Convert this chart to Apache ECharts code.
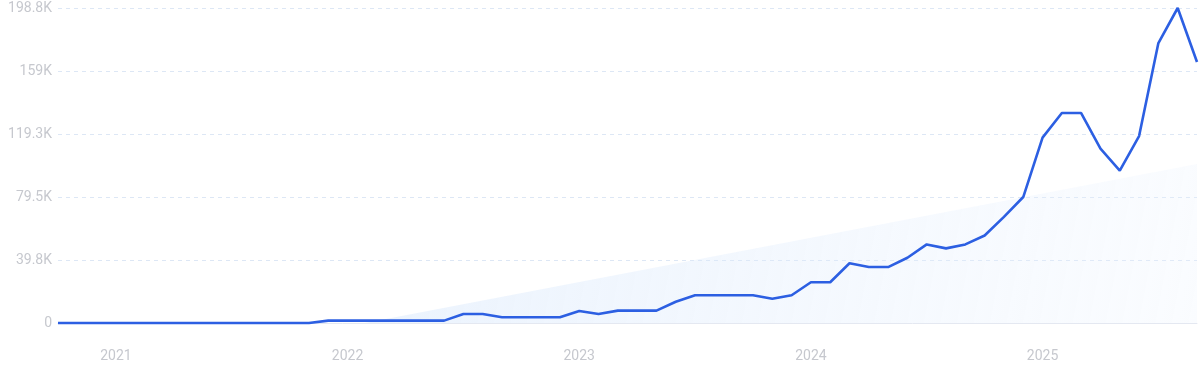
<!DOCTYPE html>
<html>
<head>
<meta charset="utf-8">
<script src="https://cdn.jsdelivr.net/npm/echarts@6/dist/echarts.min.js"></script>
<style>html,body{margin:0;padding:0;background:#fff;}#c{width:1200px;height:372px;}</style>
</head>
<body>
<div id="c"></div>
<script>
var months = [
"2020-10","2020-11","2020-12",
"2021-01","2021-02","2021-03","2021-04","2021-05","2021-06","2021-07","2021-08","2021-09","2021-10","2021-11","2021-12",
"2022-01","2022-02","2022-03","2022-04","2022-05","2022-06","2022-07","2022-08","2022-09","2022-10","2022-11","2022-12",
"2023-01","2023-02","2023-03","2023-04","2023-05","2023-06","2023-07","2023-08","2023-09","2023-10","2023-11","2023-12",
"2024-01","2024-02","2024-03","2024-04","2024-05","2024-06","2024-07","2024-08","2024-09","2024-10","2024-11","2024-12",
"2025-01","2025-02","2025-03","2025-04","2025-05","2025-06","2025-07","2025-08","2025-09"
];
var values = [
0,0,0,
0,0,0,0,0,0,0,0,0,0,0,1500,
1500,1500,1500,1500,1500,1500,5700,5700,3600,3600,3600,3600,
7600,5700,7800,7800,7800,13400,17500,17500,17500,17500,15300,17500,
25700,25700,37700,35300,35300,41200,49600,47100,49600,55200,67000,79500,
117000,132500,132500,110000,96200,118000,176700,198800,164700
];
var trendPoints = [[0,-37000],[59,100300]];
var yTicks = [0,39760,79520,119280,159040,198800];

function fmt(v){
  if (v === 0) return '0';
  var k = Math.round(v/100)/10;
  return k + 'K';
}

var chart = echarts.init(document.getElementById('c'), null, {renderer:'canvas'});
chart.setOption({
  animation:false,
  grid:{left:58,right:3,top:8,bottom:49,containLabel:false},
  xAxis:{
    type:'category',
    data:months,
    boundaryGap:false,
    axisLine:{show:true,lineStyle:{color:'#e4e8f1',width:1}},
    axisTick:{show:false},
    splitLine:{show:false},
    axisLabel:{
      color:'#c6c8ce',fontSize:14,fontFamily:'Roboto',margin:26,
      interval:function(i,v){return v.slice(5)==='01';},
      formatter:function(v){return v.slice(0,4);}
    }
  },
  yAxis:{
    type:'value',
    min:yTicks[0],max:yTicks[yTicks.length-1],interval:yTicks[1]-yTicks[0],
    axisLine:{show:false},axisTick:{show:false},
    splitLine:{show:true,lineStyle:{color:'#dde7f5',type:[4,4],width:1}},
    axisLabel:{color:'#c6c8ce',fontSize:14,fontFamily:'Roboto',margin:6,formatter:fmt}
  },
  series:[
    {
      type:'line',data:trendPoints,symbol:'none',silent:true,z:1,
      lineStyle:{width:0},
      areaStyle:{origin:'start',color:new echarts.graphic.LinearGradient(0,0,1,1,[
        {offset:0,color:'rgba(200,222,250,0.75)'},
        {offset:1,color:'rgba(235,243,254,0.35)'}
      ])}
    },
    {
      type:'line',data:values,symbol:'none',smooth:false,z:3,
      lineStyle:{color:'#2c5fe2',width:2.6},
      clip:false
    }
  ]
});
</script>
</body>
</html>
